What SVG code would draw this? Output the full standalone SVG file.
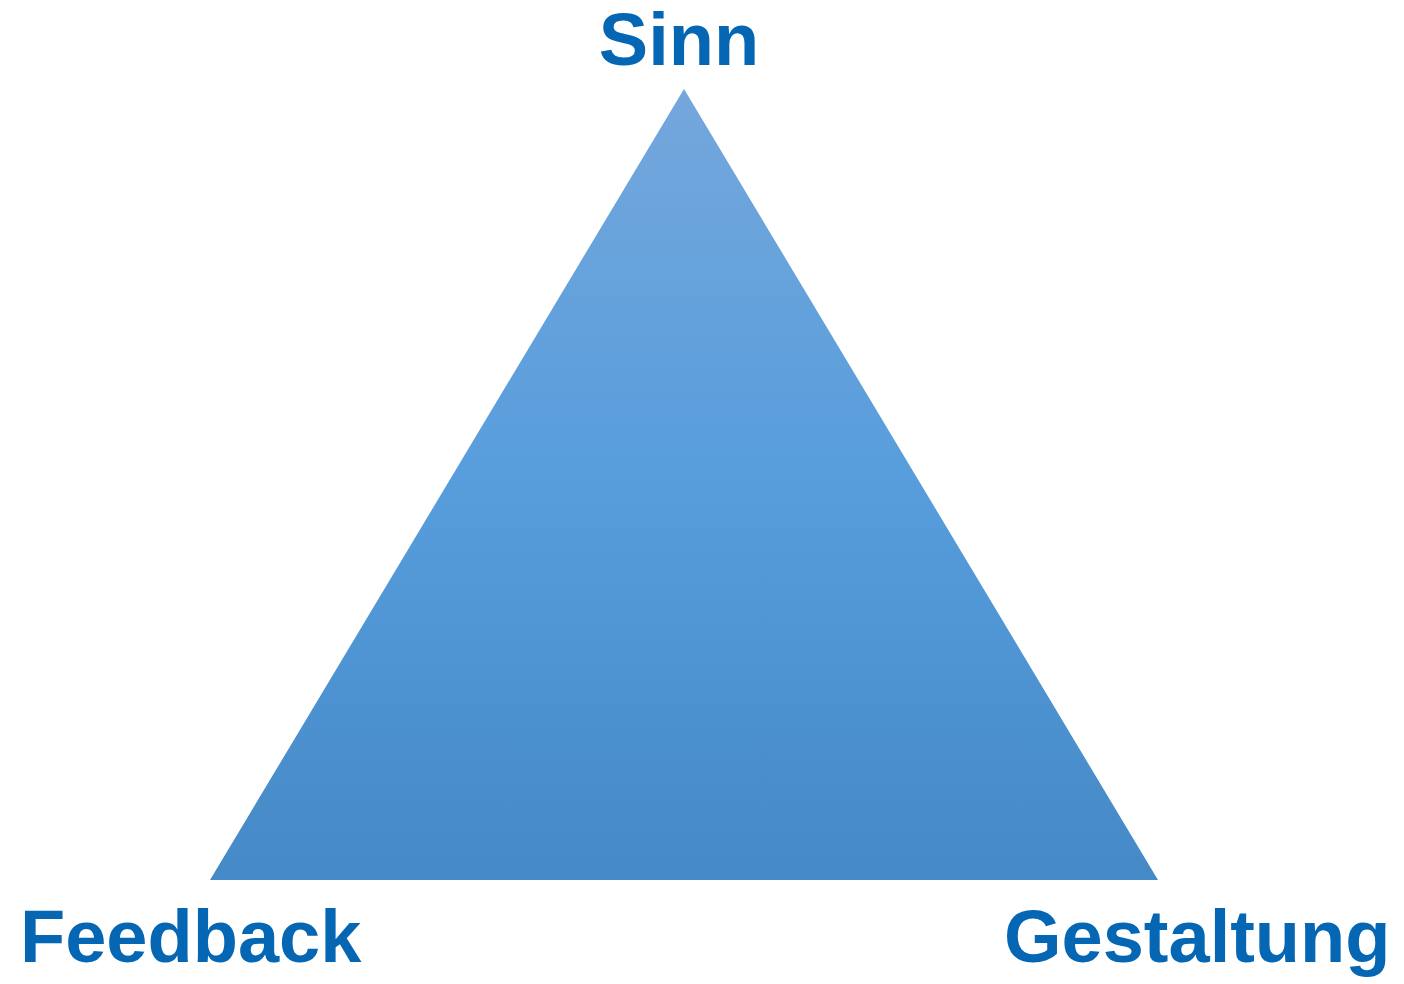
<svg xmlns="http://www.w3.org/2000/svg" width="1404" height="984" viewBox="0 0 1404 984">
<style>
.lbl{font-family:"Liberation Sans",Arial,sans-serif;font-weight:bold;font-size:74px;fill:#0567b3}
</style>
<defs>
<linearGradient id="g" x1="0" y1="0" x2="0" y2="1">
<stop offset="0" stop-color="#74a7dc"/>
<stop offset="0.5" stop-color="#579ddc"/>
<stop offset="1" stop-color="#4589c6"/>
</linearGradient>
</defs>
<rect width="1404" height="984" fill="#ffffff"/>
<g id="triangle"><polygon points="684,89 1158,880 210,880" fill="url(#g)"/></g>
<g id="sinn"><text class="lbl" x="679" y="65" text-anchor="middle">Sinn</text></g>
<g id="feedback"><text class="lbl" x="20" y="962">Feedback</text></g>
<g id="gestaltung"><text class="lbl" x="1004" y="962">Gestaltung</text></g>
<g id="connectors"/>
</svg>
